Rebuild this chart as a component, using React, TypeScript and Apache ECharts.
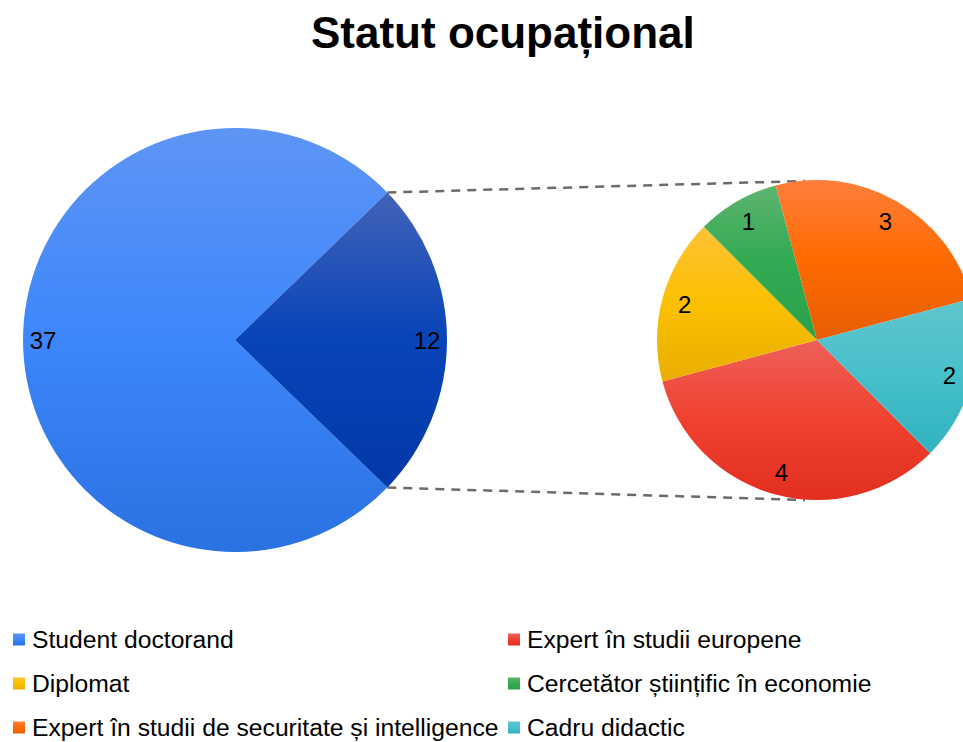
import React, { useEffect, useRef } from "react";
import * as echarts from "echarts";

const chartTitle = "Statut ocupațional";
const mainNames = ["Student doctorand", "Altele"];
const mainValues = [37, 12];
const subNames = [
  "Expert în studii europene",
  "Diplomat",
  "Cercetător științific în economie",
  "Expert în studii de securitate și intelligence",
  "Cadru didactic",
];
const subValues = [4, 2, 1, 3, 2];
const legendLeft = [
  "Student doctorand",
  "Diplomat",
  "Expert în studii de securitate și intelligence",
];
const legendRight = [
  "Expert în studii europene",
  "Cercetător științific în economie",
  "Cadru didactic",
];

const mainColors = [
  ["#5e95f5", "#3d86fb", "#2a71e2"],
  ["#4262b8", "#0744b8", "#0238a8"],
];
const subColors = [
  ["#ee605a", "#f0412f", "#e22f1f"],
  ["#fdc236", "#fbc000", "#e9ae02"],
  ["#5fb46f", "#31aa51", "#2ba24a"],
  ["#ff7e3c", "#ff6a00", "#e65e05"],
  ["#60c5cd", "#46c0ca", "#2fb2bf"],
];

const FONT = "'Liberation Sans', Arial, sans-serif";

const grad = (c: string[]) =>
  new echarts.graphic.LinearGradient(0, 0, 0, 1, [
    { offset: 0, color: c[0] },
    { offset: 0.5, color: c[1] },
    { offset: 1, color: c[2] },
  ]);

export default function App() {
  const ref = useRef<HTMLDivElement>(null);
  useEffect(() => {
    if (!ref.current) return;
    const chart = echarts.init(ref.current, null, { renderer: "svg" });

    const mainCenter = [235, 340];
    const mainR = 212;
    const subCenter = [817, 340];
    const subR = 160;
    const total = mainValues.reduce((a, b) => a + b, 0);
    const half = (mainValues[1] / total) * 180; // degrees
    const mainStart = 360 - half;
    const rad = (half * Math.PI) / 180;
    const p1 = [mainCenter[0] + mainR * Math.cos(rad), mainCenter[1] - mainR * Math.sin(rad)];
    const p2 = [mainCenter[0] + mainR * Math.cos(rad), mainCenter[1] + mainR * Math.sin(rad)];
    const q1 = [subCenter[0] - 12, subCenter[1] - subR + 1];
    const q2 = [subCenter[0] - 12, subCenter[1] + subR];

    const labelStyle = {
      show: true,
      position: "inside",
      formatter: "{c}",
      color: "#000",
      fontSize: 24,
      fontFamily: FONT,
    };

    const legendBase = {
      orient: "vertical",
      top: 627,
      height: 140,
      padding: 0,
      itemWidth: 12,
      itemHeight: 12,
      itemGap: 19,
      icon: "rect",
      selectedMode: false,
      textStyle: {
        fontSize: 24.7,
        lineHeight: 24,
        color: "#000",
        fontFamily: FONT,
        padding: [0, 0, 0, 2],
      },
    };

    chart.setOption({
      animation: false,
      backgroundColor: "#fff",
      title: {
        text: chartTitle,
        left: 306,
        top: 5,
        textStyle: { fontSize: 44, fontWeight: "bold", color: "#000", fontFamily: FONT },
      },
      legend: [
        { ...legendBase, left: 13, data: legendLeft },
        { ...legendBase, left: 508, data: legendRight },
      ],
      graphic: [
        {
          type: "line",
          shape: { x1: p1[0], y1: p1[1], x2: q1[0], y2: q1[1] },
          style: { stroke: "#6b6b6b", lineWidth: 2.5, lineDash: [9, 7] },
          silent: true,
        },
        {
          type: "line",
          shape: { x1: p2[0], y1: p2[1], x2: q2[0], y2: q2[1] },
          style: { stroke: "#6b6b6b", lineWidth: 2.5, lineDash: [9, 7] },
          silent: true,
        },
      ],
      series: [
        {
          type: "pie",
          center: mainCenter,
          radius: [0, mainR],
          startAngle: mainStart,
          silent: true,
          label: { show: false },
          labelLine: { show: false },
          emphasis: { disabled: true },
          data: mainNames.map((n, i) => ({
            name: n,
            value: mainValues[i],
            itemStyle: { color: grad(mainColors[i]) },
          })),
        },
        {
          type: "pie",
          center: subCenter,
          radius: [0, subR],
          startAngle: 315,
          silent: true,
          label: { show: false },
          labelLine: { show: false },
          emphasis: { disabled: true },
          data: subNames.map((n, i) => ({
            name: n,
            value: subValues[i],
            itemStyle: { color: grad(subColors[i]) },
          })),
        },
        {
          type: "pie",
          center: mainCenter,
          radius: [166, mainR],
          startAngle: mainStart,
          silent: true,
          avoidLabelOverlap: false,
          itemStyle: { color: "rgba(0,0,0,0)" },
          label: labelStyle,
          labelLine: { show: false },
          emphasis: { disabled: true },
          data: mainNames.map((n, i) => ({ name: n, value: mainValues[i] })),
        },
        {
          type: "pie",
          center: subCenter,
          radius: [108, subR],
          startAngle: 315,
          silent: true,
          avoidLabelOverlap: false,
          itemStyle: { color: "rgba(0,0,0,0)" },
          label: labelStyle,
          labelLine: { show: false },
          emphasis: { disabled: true },
          data: subNames.map((n, i) => ({ name: n, value: subValues[i] })),
        },
      ],
    });
    return () => chart.dispose();
  }, []);

  return (
    <div
      ref={ref}
      style={{ position: "fixed", left: 0, top: 0, width: 963, height: 742, background: "#fff" }}
    />
  );
}
